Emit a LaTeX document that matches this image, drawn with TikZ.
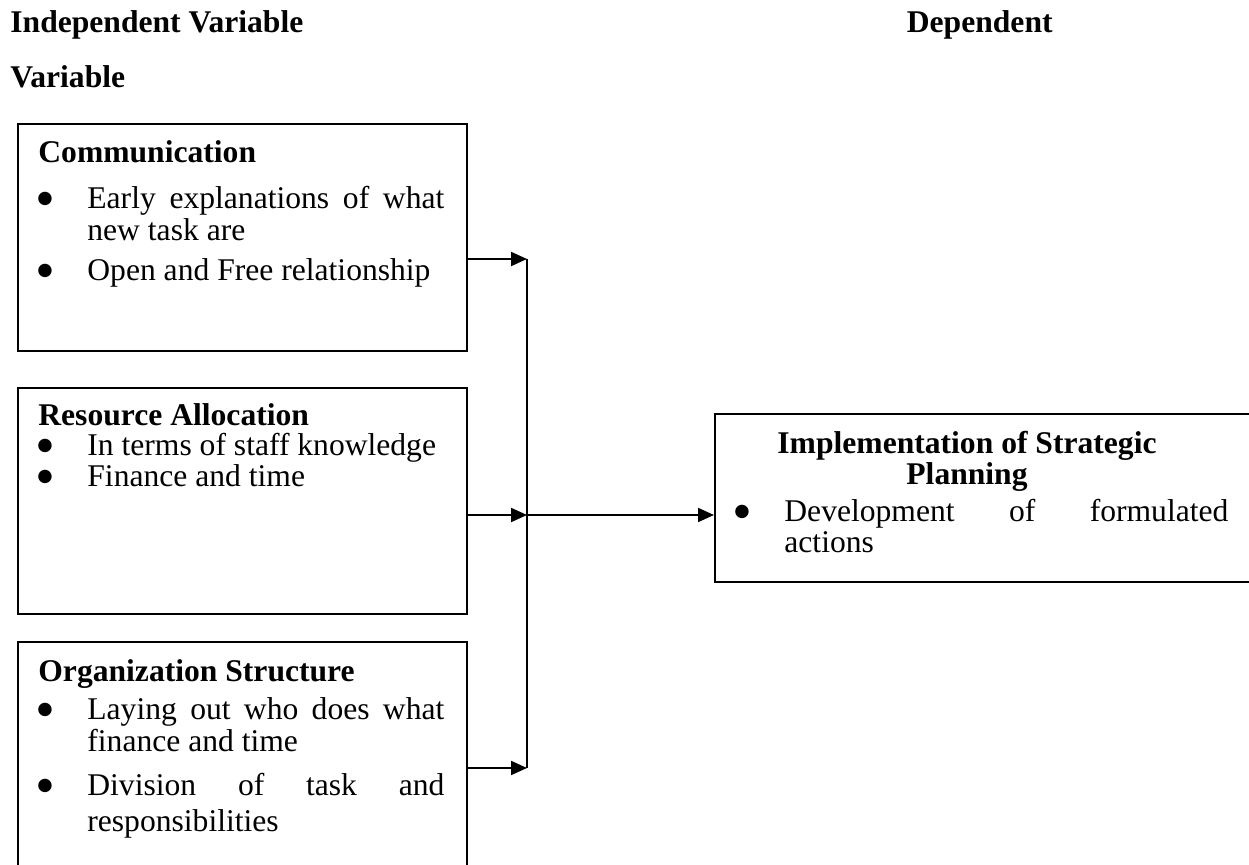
\documentclass[tikz,border=0pt]{standalone}
\usepackage{fontspec}
\setmainfont{Liberation Serif}
\newfontfamily\symf{DejaVu Sans}
\usetikzlibrary{arrows.meta}
\newcommand{\bigbul}{\raisebox{2.5pt}{\symf\fontsize{8.8pt}{8.8pt}\selectfont ●}}
\begin{document}
\begin{tikzpicture}[x=0.5pt,y=-0.5pt,
  box/.style={draw, line width=1pt, anchor=north west, inner sep=0pt},
  txt/.style={anchor=base west, inner sep=0pt, font=\fontsize{15.8pt}{16.5pt}\selectfont},
  hd/.style={anchor=base west, inner sep=0pt, font=\fontsize{15.8pt}{16.5pt}\selectfont\bfseries},
  bul/.style={anchor=base, inner sep=0pt},
  arr/.style={line width=1pt, -{Triangle[length=8pt,width=7pt]}},
  ln/.style={line width=1pt}]
\useasboundingbox (0,0) rectangle (1249,865);
% headers
\node[hd] (h1) at (10,33) {Independent Variable};
\node[hd, anchor=base east] (h2) at (1053,33) {Dependent};
\node[hd] (h3) at (10,88) {Variable};
% boxes
\node[box, minimum width=224.5pt, minimum height=113.5pt] (b1) at (17,123) {};
\node[box, minimum width=224.5pt, minimum height=113pt] (b2) at (17,387) {};
\node[box, minimum width=224.5pt, minimum height=125pt] (b3) at (17,641) {};
\node[box, minimum width=275pt, minimum height=84pt] (out) at (714,413) {};
% box 1
\node[hd] (t1) at (38,163) {Communication};
\node[bul] (p11) at (45,209) {\bigbul};
\node[txt] (l11) at (87,209) {\makebox[178.5pt][s]{Early explanations of what}};
\node[txt] (l12) at (87,241) {new task are};
\node[bul] (p12) at (45,281) {\bigbul};
\node[txt] (l13) at (87,281) {Open and Free relationship};
% box 2
\node[hd] (t2) at (38,426) {Resource Allocation};
\node[bul] (p21) at (45,456) {\bigbul};
\node[txt] (l21) at (87,456) {In terms of staff knowledge};
\node[bul] (p22) at (45,487) {\bigbul};
\node[txt] (l22) at (87,487) {Finance and time};
% box 3
\node[hd] (t3) at (38,682) {Organization Structure};
\node[bul] (p31) at (45,720) {\bigbul};
\node[txt] (l31) at (87,720) {\makebox[178.5pt][s]{Laying out who does what}};
\node[txt] (l32) at (87,752) {finance and time};
\node[bul] (p32) at (45,796) {\bigbul};
\node[txt] (l33) at (87,796) {\makebox[178.5pt][s]{Division of task and}};
\node[txt] (l34) at (87,832) {responsibilities};
% output box
\node[hd, anchor=base] (t4) at (967,454) {Implementation of Strategic};
\node[hd, anchor=base] (t5) at (967,485) {Planning};
\node[bul] (p41) at (742,522) {\bigbul};
\node[txt] (l41) at (784,522) {\makebox[222pt][s]{Development of formulated}};
\node[txt] (l42) at (784,553) {actions};
% connectors
\coordinate (j1) at (527,259);
\coordinate (j2) at (527,515);
\coordinate (j3) at (527,768);
\draw[arr] (b1.east |- j1) -- (j1);
\draw[arr] (b2.east |- j2) -- (j2);
\draw[arr] (b3.east |- j3) -- (j3);
\draw[ln] (j1) -- (j3);
\draw[arr] (j2) -- (out.west |- j2);
\end{tikzpicture}
\end{document}
